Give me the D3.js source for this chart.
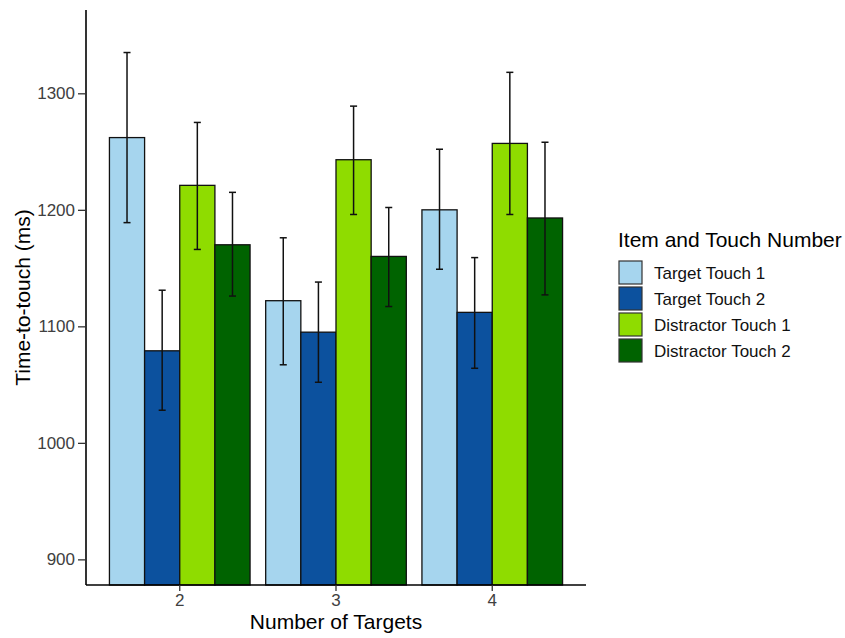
<!DOCTYPE html>
<html>
<head>
<meta charset="utf-8">
<script src="https://cdn.jsdelivr.net/npm/d3@7"></script>
<style>
  html, body { margin: 0; padding: 0; background: #fff; }
  svg { display: block; font-family: "Liberation Sans", Arial, sans-serif; }
</style>
</head>
<body>
<svg id="chart" width="845" height="638"></svg>
<script>
// Number of targets on the display
const categories = ["2", "3", "4"];
// Touch conditions (legend order)
const seriesNames = ["Target Touch 1", "Target Touch 2", "Distractor Touch 1", "Distractor Touch 2"];
const seriesColors = ["#a6d5ee", "#0c519e", "#8fdc00", "#006300"];
// Mean time-to-touch (ms) per series, one value per category
const targetTouch1 = [1262, 1122, 1200];
const targetTouch2 = [1079, 1095, 1112];
const distractorTouch1 = [1221, 1243, 1257];
const distractorTouch2 = [1170, 1160, 1193];
// Error bar bounds (ms)
const lowerTT1 = [1189, 1067, 1149];
const upperTT1 = [1335, 1176, 1252];
const lowerTT2 = [1028, 1052, 1064];
const upperTT2 = [1131, 1138, 1159];
const lowerDT1 = [1166, 1196, 1196];
const upperDT1 = [1275, 1289, 1318];
const lowerDT2 = [1126, 1117, 1127];
const upperDT2 = [1215, 1202, 1258];
// Y axis ticks
const yTicks = [900, 1000, 1100, 1200, 1300];

const means = [targetTouch1, targetTouch2, distractorTouch1, distractorTouch2];
const lowers = [lowerTT1, lowerTT2, lowerDT1, lowerDT2];
const uppers = [upperTT1, upperTT2, upperDT1, upperDT2];

const rows = [];
categories.forEach((c, ci) => {
  seriesNames.forEach((s, si) => {
    rows.push({ cat: c, series: s, color: seriesColors[si],
      value: means[si][ci], lo: lowers[si][ci], hi: uppers[si][ci] });
  });
});

const svg = d3.select("#chart");
const panelLeft = 86, panelRight = 586, panelTop = 10, panelBottom = 585;

const x = d3.scaleBand().domain(categories).range([panelLeft, panelRight])
  .paddingInner(0.1).paddingOuter(0.15);
const xs = d3.scaleBand().domain(seriesNames).range([0, x.bandwidth()]);
const y = d3.scaleLinear().domain([878, 1371.5]).range([panelBottom, panelTop]);

// Bars
const bars = svg.append("g");
bars.selectAll("rect").data(rows).join("rect")
  .attr("x", d => x(d.cat) + xs(d.series))
  .attr("y", d => y(d.value))
  .attr("width", xs.bandwidth())
  .attr("height", d => y(y.domain()[0]) - y(d.value))
  .attr("fill", d => d.color)
  .attr("stroke", "#111")
  .attr("stroke-width", 1.3);

// Error bars
const capW = xs.bandwidth() * 0.2;
const eb = svg.append("g").attr("stroke", "#111").attr("stroke-width", 1.5);
rows.forEach(d => {
  const cx = x(d.cat) + xs(d.series) + xs.bandwidth() / 2;
  eb.append("line").attr("x1", cx).attr("x2", cx).attr("y1", y(d.lo)).attr("y2", y(d.hi));
  eb.append("line").attr("x1", cx - capW / 2).attr("x2", cx + capW / 2).attr("y1", y(d.lo)).attr("y2", y(d.lo));
  eb.append("line").attr("x1", cx - capW / 2).attr("x2", cx + capW / 2).attr("y1", y(d.hi)).attr("y2", y(d.hi));
});

// Axes
const yAxis = svg.append("g").attr("transform", `translate(${panelLeft},0)`)
  .call(d3.axisLeft(y).tickValues(yTicks).tickFormat(d3.format("d"))
    .tickSize(8).tickPadding(3).tickSizeOuter(0));
const xAxis = svg.append("g").attr("transform", `translate(0,${panelBottom})`)
  .call(d3.axisBottom(x).tickSize(6).tickPadding(3).tickSizeOuter(0));
[yAxis, xAxis].forEach(a => {
  a.select(".domain").attr("stroke", "#000").attr("stroke-width", 1.6);
  a.selectAll(".tick line").attr("stroke", "#333").attr("stroke-width", 1.3);
  a.selectAll(".tick text").attr("fill", "#404040")
    .style("font-size", "17px").style("font-family", "'Liberation Sans', Arial, sans-serif");
});
// extend axis lines to full panel span
yAxis.select(".domain").attr("d", `M0,${panelBottom}V${panelTop}`);
xAxis.select(".domain").attr("d", `M${panelLeft},0H${panelRight}`);

// Axis titles
svg.append("text").attr("x", (panelLeft + panelRight) / 2).attr("y", 629)
  .attr("text-anchor", "middle").attr("fill", "#000").style("font-size", "21px")
  .text("Number of Targets");
svg.append("text").attr("transform", `translate(30,${(panelTop + panelBottom) / 2}) rotate(-90)`)
  .attr("text-anchor", "middle").attr("fill", "#000").style("font-size", "21px")
  .text("Time-to-touch (ms)");

// Legend
const lg = svg.append("g").attr("transform", "translate(618,0)");
lg.append("text").attr("x", 0).attr("y", 247).attr("fill", "#000")
  .style("font-size", "21px").text("Item and Touch Number");
seriesNames.forEach((s, i) => {
  const ky = 261 + i * 26;
  lg.append("rect").attr("x", 1).attr("y", ky).attr("width", 23).attr("height", 23)
    .attr("fill", seriesColors[i]).attr("stroke", "#333").attr("stroke-width", 1.2);
  lg.append("text").attr("x", 36).attr("y", ky + 12.5).attr("dy", "0.35em")
    .attr("fill", "#111").style("font-size", "17px").text(s);
});
</script>
</body>
</html>
